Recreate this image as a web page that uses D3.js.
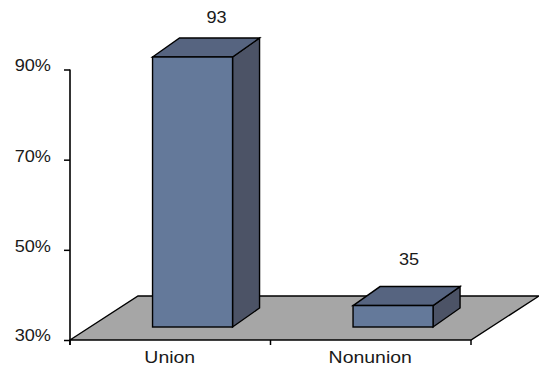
<!DOCTYPE html>
<html><head><meta charset="utf-8">
<style>html,body{margin:0;padding:0;background:#fff}svg{display:block}text{font-family:"Liberation Sans",Arial,sans-serif;fill:#1a1a1a;font-size:16.5px}</style>
<script src="https://cdn.jsdelivr.net/npm/d3@7"></script></head><body>
<script>
const categories = ["Union", "Nonunion"];
const values = [93, 35];
const axisTicks = [30, 50, 70, 90];

const W = 539, H = 366;
const svg = d3.select("body").append("svg").attr("width", W).attr("height", H);

const y = d3.scaleLinear().domain([30, 90]).range([340, 69.5]);
const barY = d3.scaleLinear().domain([30, 93]).range([327, 57]);
const x = d3.scaleBand().domain(categories).range([70, 471]);
const barW = 80, dx = 27, dy = -19;
const floorDx = 68, floorDy = -44;
const ink = "#000";
const line = d3.line();

function label(px, py, str, anchor, k) {
  svg.append("text").attr("transform", `translate(${px},${py}) scale(${k},1)`)
    .attr("text-anchor", anchor).text(str);
}

// floor
svg.append("path")
  .attr("d", line([[70, 340], [70 + floorDx, 340 + floorDy], [471 + floorDx, 340 + floorDy], [471, 340]]) + "Z")
  .attr("fill", "#a6a6a6").attr("stroke", ink).attr("stroke-width", 1.4);

// bars
categories.forEach((c, i) => {
  const xc = x(c) + x.bandwidth() / 2 + 22.3;
  const l = xc - barW / 2, r = l + barW;
  const t = barY(values[i]), b = barY(30);
  const g = svg.append("g").attr("stroke", ink).attr("stroke-width", 1.4).attr("stroke-linejoin", "miter");
  g.append("path").attr("d", line([[r, t], [r + dx, t + dy], [r + dx, b + dy], [r, b]]) + "Z").attr("fill", "#4c5366");
  g.append("path").attr("d", line([[l, t], [l + dx, t + dy], [r + dx, t + dy], [r, t]]) + "Z").attr("fill", "#566480");
  g.append("rect").attr("x", l).attr("y", t).attr("width", barW).attr("height", b - t).attr("fill", "#64799a");
  label(xc + (i === 0 ? 24 : 16), t + dy + (i === 0 ? -15 : -22), values[i], "middle", 1.1);
});

// y axis
const yAxis = svg.append("g").attr("transform", "translate(70,0)")
  .call(d3.axisLeft(y).tickValues(axisTicks).tickSize(6).tickFormat(""));
yAxis.select(".domain").attr("d", `M0,${y(90)}V${y(30) + 5}`).attr("stroke", ink).attr("stroke-width", 1.6).attr("fill", "none");
yAxis.selectAll("line").attr("stroke", ink).attr("stroke-width", 1.5);
axisTicks.forEach(d => label(51, y(d) + (d === 90 ? 1 : d === 30 ? 1 : 2), d + "%", "end", 1.1));

// x axis
svg.append("g").selectAll("line").data([...categories.map(c => x(c)), x.range()[1]]).join("line")
  .attr("x1", d => d).attr("x2", d => d).attr("y1", 340).attr("y2", 345)
  .attr("stroke", ink).attr("stroke-width", 1.5);
categories.forEach(c => label(x(c) + x.bandwidth() / 2 - 0.5, 363, c, "middle", 1.18));
</script></body></html>
